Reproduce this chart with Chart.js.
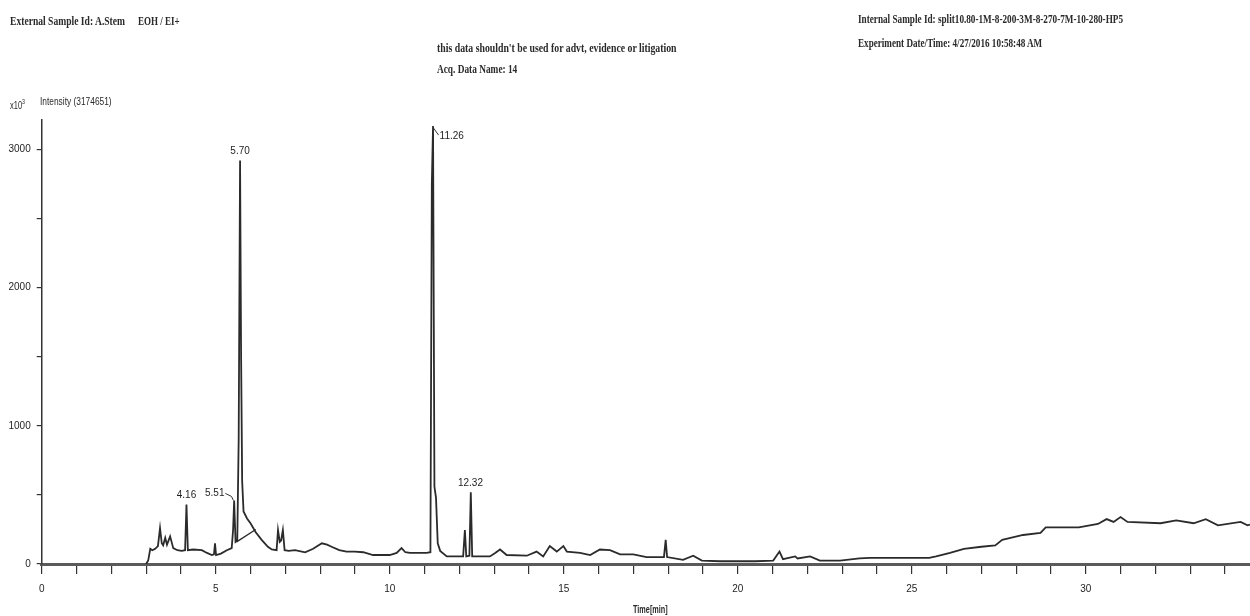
<!DOCTYPE html>
<html>
<head>
<meta charset="utf-8">
<script src="https://cdn.jsdelivr.net/npm/chart.js@4.4.1/dist/chart.umd.min.js"></script>
<style>
  html,body{margin:0;padding:0;background:#fff;}
  #wrap{position:relative;width:1250px;height:616px;overflow:hidden;}
  canvas{position:absolute;left:0;top:0;}
  .t{position:absolute;white-space:nowrap;font-family:"Liberation Serif","DejaVu Serif",serif;font-size:12px;font-weight:bold;color:#2a2a2a;transform-origin:0 50%;line-height:14px;}
  .s{font-family:"Liberation Sans Narrow","Liberation Sans",sans-serif;font-size:10px;font-weight:normal;}
</style>
</head>
<body>
<div id="wrap">
  <canvas id="c" width="1250" height="616"></canvas>
  <div class="t" data-x="10" data-y="21" data-w="115">External Sample Id: A.Stem</div>
  <div class="t" data-x="138" data-y="21" data-w="42">EOH / EI+</div>
  <div class="t" data-x="437" data-y="48" data-w="240">this data shouldn't be used for advt, evidence or litigation</div>
  <div class="t" data-x="437" data-y="69" data-w="80">Acq. Data Name: 14</div>
  <div class="t" data-x="858" data-y="19" data-w="265">Internal Sample Id: split10.80-1M-8-200-3M-8-270-7M-10-280-HP5</div>
  <div class="t" data-x="858" data-y="43" data-w="184">Experiment Date/Time: 4/27/2016 10:58:48 AM</div>
  <div class="t s" data-x="10" data-y="102" data-w="15">x10<sup style="font-size:7px;vertical-align:5px">3</sup></div>
  <div class="t s" data-x="40" data-y="102" data-w="72">Intensity (3174651)</div>
  <div class="t s" data-x="633" data-y="610" data-w="35" style="font-weight:bold">Time[min]</div>
</div>
<script>
// ---- data ----
const times = [3.00,3.06,3.12,3.18,3.26,3.34,3.40,3.45,3.49,3.55,3.60,3.69,3.78,3.90,4.02,4.12,4.16,4.20,4.35,4.60,4.75,4.89,4.95,4.98,5.01,5.15,5.32,5.46,5.50,5.53,5.57,5.62,5.66,5.70,5.73,5.76,5.80,5.90,6.00,6.15,6.32,6.50,6.61,6.75,6.79,6.84,6.88,6.93,6.98,7.10,7.28,7.57,7.80,8.05,8.20,8.33,8.55,8.76,9.00,9.24,9.52,10.00,10.20,10.34,10.45,10.58,11.06,11.17,11.21,11.245,11.285,11.33,11.38,11.45,11.64,12.11,12.16,12.20,12.29,12.33,12.37,12.88,13.03,13.17,13.36,13.94,14.22,14.41,14.60,14.80,14.99,15.09,15.47,15.76,16.04,16.33,16.62,17.00,17.38,17.88,17.93,17.97,18.43,18.72,18.97,19.50,20.50,21.02,21.20,21.30,21.65,21.72,22.08,22.36,22.94,23.50,23.80,25.50,25.70,26.10,26.50,27.00,27.40,27.60,28.20,28.70,28.85,29.80,30.35,30.60,30.80,31.00,31.20,32.15,32.60,33.10,33.45,33.80,34.45,34.65,34.72];
const intensity = [0,25,110,100,110,130,260,150,135,190,140,200,115,100,95,100,430,100,105,100,80,65,70,150,65,75,100,115,250,460,160,170,900,2920,1500,600,380,330,295,230,175,125,105,100,245,160,170,245,100,95,100,85,110,150,140,125,100,90,90,85,65,65,80,115,85,80,80,85,2750,3170,560,480,150,95,55,55,245,55,60,520,55,55,80,105,65,60,90,55,130,90,130,90,80,65,105,100,70,70,50,50,175,50,30,60,25,20,20,25,90,35,55,40,55,25,25,40,45,45,55,80,110,125,135,175,210,225,265,265,290,325,305,340,305,295,315,295,325,280,305,280,285];
// baseline segment drawn under the 5.70 peak
const baseTimes = [5.60, 6.15];
const baseValues = [160, 250];
// annotated peaks
const peakTimes = [4.16, 5.51, 5.70, 11.26, 12.32];
const peakValues = [430, 460, 2920, 3170, 520];
const peakLabels = ['4.16', '5.51', '5.70', '11.26', '12.32'];
// axis ticks
const xTicks = [0,1,2,3,4,5,6,7,8,9,10,11,12,13,14,15,16,17,18,19,20,21,22,23,24,25,26,27,28,29,30,31,32,33,34];
const xTickLabels = ['0','5','10','15','20','25','30'];
const yTicks = [0,500,1000,1500,2000,2500,3000];
const yTickLabels = ['0','1000','2000','3000'];
const xMin = 0, xMax = 34.72, yMin = 0, yMax = 3214;

const pts = times.map((t,i)=>({x:t,y:intensity[i]}));
const basePts = baseTimes.map((t,i)=>({x:t,y:baseValues[i]}));

const peakLabelPlugin = {
  id:'peakLabels',
  afterDatasetsDraw(chart){
    const ctx = chart.ctx, xs = chart.scales.x, ys = chart.scales.y;
    ctx.save();
    ctx.font = '10px "Liberation Sans Narrow","Liberation Sans",sans-serif';
    ctx.fillStyle = '#1e1e1e';
    ctx.strokeStyle = '#333';
    ctx.lineWidth = 1;
    ctx.textBaseline = 'middle';
    peakLabels.forEach((lab,i)=>{
      const px = xs.getPixelForValue(peakTimes[i]);
      const py = ys.getPixelForValue(peakValues[i]);
      if (lab === '5.51') {
        ctx.textAlign = 'right';
        ctx.fillText(lab, px - 9, py - 7);
        ctx.beginPath(); ctx.moveTo(px - 8, py - 7); ctx.lineTo(px - 2, py - 4); ctx.lineTo(px, py); ctx.stroke();
      } else if (lab === '11.26') {
        ctx.textAlign = 'left';
        ctx.beginPath(); ctx.moveTo(px, py + 2); ctx.lineTo(px + 5, py + 9); ctx.stroke();
        ctx.fillText(lab, px + 6, py + 10);
      } else {
        ctx.textAlign = 'center';
        ctx.fillText(lab, px, py - 9);
      }
    });
    ctx.restore();
  }
};

const tickFont = {family:'"Liberation Sans Narrow","Liberation Sans",sans-serif', size:10};

new Chart(document.getElementById('c'), {
  type:'line',
  data:{datasets:[
    {data:pts, borderColor:'#2b2b2b', borderWidth:1.8, pointRadius:0, tension:0, fill:false},
    {data:basePts, borderColor:'#2b2b2b', borderWidth:1.4, pointRadius:0, tension:0, fill:false}
  ]},
  options:{
    responsive:false, animation:false, devicePixelRatio:1,
    parsing:false,
    layout:{padding:{top:120,right:0,bottom:0,left:0}},
    plugins:{legend:{display:false}, tooltip:{enabled:false}},
    scales:{
      x:{type:'linear', min:xMin, max:xMax, position:'bottom',
        border:{color:'#5a5a5a', width:3},
        grid:{drawOnChartArea:false, drawTicks:true, tickLength:10, color:'#333', lineWidth:1.2},
        ticks:{autoSkip:false, maxRotation:0, minRotation:0, padding:9, color:'#1e1e1e', font:tickFont,
          callback:(v)=> (xTickLabels.includes(String(v)) ? String(v) : '')},
        afterBuildTicks:(s)=>{ s.ticks = xTicks.map(v=>({value:v})); },
        afterFit:(s)=>{ s.height = 52; }
      },
      y:{type:'linear', min:yMin, max:yMax,
        border:{color:'#333', width:1.5},
        grid:{drawOnChartArea:false, drawTicks:true, tickLength:5, color:'#333', lineWidth:1.2},
        ticks:{autoSkip:false, padding:6, color:'#1e1e1e', font:tickFont,
          callback:(v)=> (yTickLabels.includes(String(v)) ? String(v) : '')},
        afterBuildTicks:(s)=>{ s.ticks = yTicks.map(v=>({value:v})); },
        afterFit:(s)=>{ s.width = 41.7; }
      }
    }
  },
  plugins:[peakLabelPlugin]
});

// fit header texts to their measured widths
document.querySelectorAll('.t').forEach(el=>{
  const x = +el.dataset.x, y = +el.dataset.y, w = +el.dataset.w;
  el.style.left = x + 'px';
  el.style.top = (y - 7) + 'px';
  const nat = el.scrollWidth;
  if (nat > 0) el.style.transform = 'scaleX(' + (w / nat).toFixed(3) + ')';
});
</script>
</body>
</html>
